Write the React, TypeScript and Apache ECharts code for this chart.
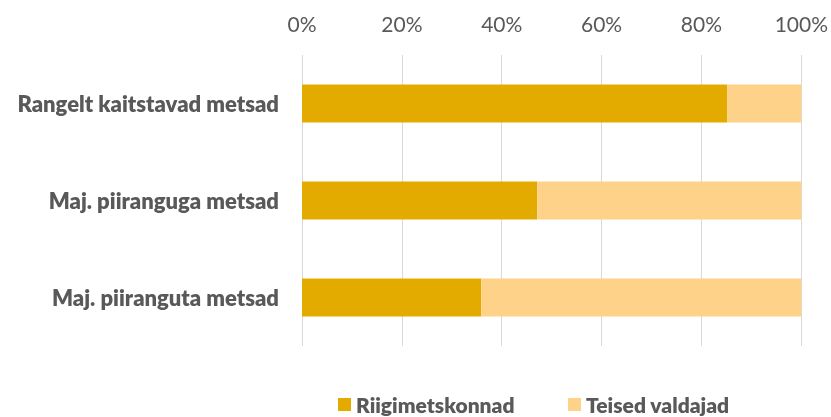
import React, { useEffect, useRef } from "react";
import * as echarts from "echarts";

const categories = ["Rangelt kaitstavad metsad", "Maj. piiranguga metsad", "Maj. piiranguta metsad"];
const riigimetskonnad = [85.2, 47.1, 35.9];
const teisedValdajad = [14.8, 52.9, 64.1];
const seriesNames = ["Riigimetskonnad", "Teised valdajad"];

export default function App() {
  const ref = useRef<HTMLDivElement>(null);
  useEffect(() => {
    const chart = echarts.init(ref.current!, null, { renderer: "svg" });
    const legendText = { color: "#595959", fontSize: 21, fontWeight: 800, fontFamily: "Lato" };
    chart.setOption({
      animation: false,
      textStyle: { fontFamily: "Lato" },
      grid: { left: 302, right: 29, top: 55, bottom: 71, containLabel: false },
      legend: [
        {
          left: 333,
          top: 389,
          itemWidth: 13,
          itemHeight: 13,
          itemGap: 7,
          icon: "rect",
          textStyle: legendText,
          data: [seriesNames[0]],
        },
        {
          left: 563,
          top: 389,
          itemWidth: 13,
          itemHeight: 13,
          icon: "rect",
          textStyle: legendText,
          data: [seriesNames[1]],
        },
      ],
      xAxis: {
        type: "value",
        position: "top",
        min: 0,
        max: 100,
        interval: 20,
        axisLine: { show: false },
        axisTick: { show: false },
        axisLabel: { formatter: "{value}%", color: "#595959", fontSize: 21, fontWeight: 400, margin: 21, fontFamily: "Lato" },
        splitLine: { show: true, lineStyle: { color: "#d9d9d9", width: 1 } },
      },
      yAxis: {
        type: "category",
        inverse: true,
        data: categories,
        axisLine: { show: false },
        axisTick: { show: false },
        axisLabel: { color: "#595959", fontSize: 22, fontWeight: 800, margin: 23, fontFamily: "Lato" },
      },
      series: [
        {
          name: seriesNames[0],
          type: "bar",
          stack: "total",
          barWidth: 38,
          itemStyle: { color: "#E3AB00" },
          data: riigimetskonnad,
        },
        {
          name: seriesNames[1],
          type: "bar",
          stack: "total",
          barWidth: 38,
          itemStyle: { color: "#FFD28A" },
          data: teisedValdajad,
        },
      ],
    });
    return () => chart.dispose();
  }, []);
  return <div ref={ref} style={{ position: "fixed", left: 0, top: 0, width: 831, height: 417 }} />;
}
